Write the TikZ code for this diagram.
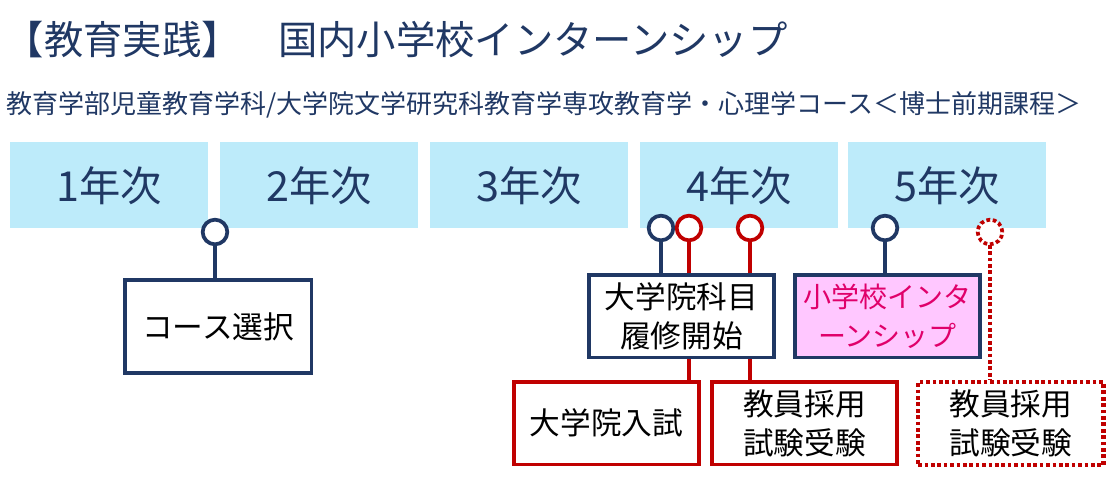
\documentclass[tikz,border=0pt]{standalone}
\usepackage{fontspec}
\newfontfamily\jp{Noto Sans CJK JP}
\definecolor{navy}{HTML}{203864}
\definecolor{cy}{HTML}{BDEBFA}
\definecolor{rd}{HTML}{C00000}
\definecolor{pk}{HTML}{FFC7FF}
\definecolor{pktext}{HTML}{E0006A}
\begin{document}
\begin{tikzpicture}[x=0.75pt,y=-0.75pt,
  yr/.style={fill=cy,draw=none,minimum width=148.5pt,minimum height=64.5pt,inner sep=0,anchor=north west,font=\jp\fontsize{31}{33}\selectfont,text=navy},
  lbl/.style={fill=white,line width=2.8pt,minimum width=139pt,minimum height=62pt,inner sep=0,anchor=north west,align=center,font=\jp\fontsize{23}{29}\selectfont,text=black},
  nv/.style={draw=navy,line width=2.8pt},
  rl/.style={draw=rd,line width=2.8pt},
  pin/.style={circle,fill=white,minimum size=18.5pt,inner sep=0,line width=2.8pt}]
\useasboundingbox (0,0) rectangle (1119,480);
\node[anchor=west,font=\jp\fontsize{29.5}{32}\selectfont,text=navy] (title) at (0,40) {【教育実践】\hspace{28pt}国内小学校インターンシップ};
\node[anchor=west,font=\jp\fontsize{19.5}{22}\selectfont,text=navy] (sub) at (2,105) {教育学部児童教育学科/大学院文学研究科教育学専攻教育学・心理学コース＜博士前期課程＞};
\node[yr] (y1) at (10,142) {1年次};
\node[yr] (y2) at (220,142) {2年次};
\node[yr] (y3) at (430,142) {3年次};
\node[yr] (y4) at (640,142) {4年次};
\node[yr] (y5) at (848,142) {5年次};
\coordinate (c1) at (215,232);
\coordinate (c2) at (661,228);
\coordinate (c3) at (689,228);
\coordinate (c4) at (750,228);
\coordinate (c5) at (885,228);
\coordinate (c6) at (990,232);
\draw[nv] (c1) -- (215,278);
\draw[nv] (c2) -- (661,273);
\draw[rl] (c3) -- (689,380);
\draw[rl] (c4) -- (750,380);
\draw[nv] (c5) -- (885,273);
\draw[rl,dotted,line width=3.2pt] (c6) -- (990,380);
\node[lbl,draw=navy,minimum width=140pt,minimum height=70pt] (b1) at (123,278) {コース選択};
\node[lbl,draw=navy] (b2) at (587,273) {大学院科目\\履修開始};
\node[lbl,draw=navy,fill=pk,text=pktext,font=\jp\fontsize{21}{29}\selectfont] (b3) at (793,273) {小学校インタ\\ーンシップ};
\node[lbl,draw=rd] (b4) at (512,380) {大学院入試};
\node[lbl,draw=rd] (b5) at (710,380) {教員採用\\試験受験};
\node[lbl,draw=rd,dotted,line width=3.2pt] (b6) at (916,380) {教員採用\\試験受験};
\node[pin,draw=navy] (p1) at (c1) {};
\node[pin,draw=navy] (p2) at (c2) {};
\node[pin,draw=rd] (p3) at (c3) {};
\node[pin,draw=rd] (p4) at (c4) {};
\node[pin,draw=navy] (p5) at (c5) {};
\node[pin,draw=rd,dotted,line width=2.8pt] (p6) at (c6) {};
\end{tikzpicture}
\end{document}
